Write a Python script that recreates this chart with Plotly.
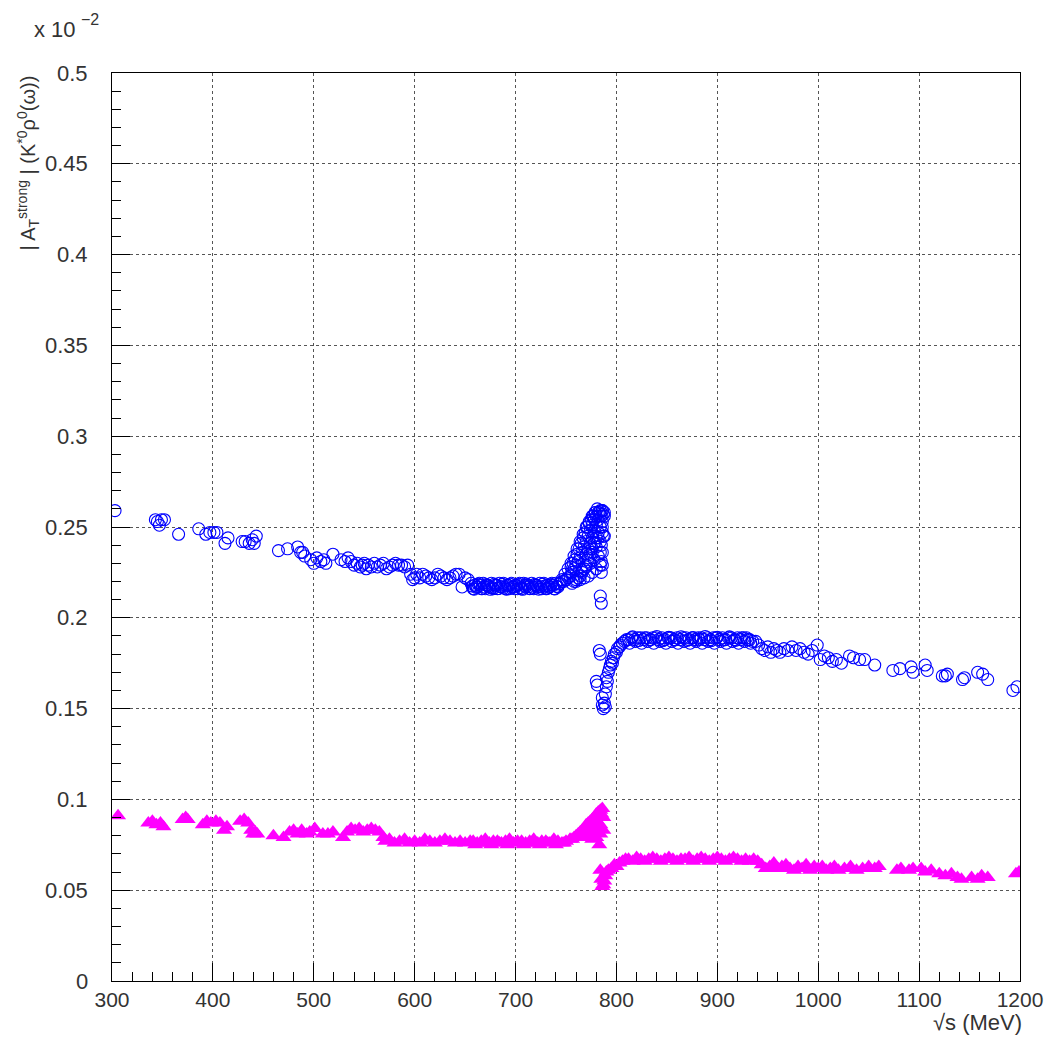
import plotly.graph_objects as go

# ---------------- blue (open circles) ----------------
blue_x_low = [303,343,345,347,349,352,366,386,393,397,401,404,412,415,429,432,436,439,441,443,465,474,484,487,489,491,497,500,503,507,510,512,519,527,531,534,537,540,543,546,548,550,552,554,557,560,563,566,569,572,575,578,581,584,587,590,593,596,598,600,602,605,608,611,614,617,620,623,626,629,632,635,638,641,644,647,650,653]
blue_y_low = [0.259,0.254,0.253,0.251,0.254,0.254,
              0.246,0.249,0.246,0.247,0.247,0.247,
              0.241,0.244,0.242,0.242,0.241,0.243,
              0.241,0.245,0.237,0.238,0.239,0.236,
              0.236,0.234,0.232,0.230,0.233,0.231,
              0.232,0.230,0.235,0.232,0.231,0.233,
              0.231,0.229,0.230,0.228,0.229,0.230,
              0.227,0.229,0.228,0.230,0.228,0.229,
              0.230,0.227,0.228,0.229,0.230,0.229,
              0.229,0.228,0.229,0.224,0.221,0.222,
              0.224,0.222,0.224,0.223,0.222,0.221,
              0.222,0.224,0.223,0.222,0.221,0.222,
              0.223,0.224,0.224,0.217,0.222,0.221]

blue_x_flat1 = [656,660,664,668,672,676,680,684,688,692,696,700,704,708,712,716,720,724,728,732,736,740]
blue_y_flat1 = [0.219,0.218,0.219,0.219,0.218,0.219,0.218,0.219,0.219,0.218,0.219,0.218,0.219,0.219,0.218,0.219,0.218,0.219,0.219,0.218,0.219,0.219]
blue_x_flat2 = [658,662,666,670,674,678,682,686,690,694,698,702,706,710,714,718,722,726,730,734,738,742]
blue_y_flat2 = [0.216,0.217,0.216,0.216,0.217,0.216,0.216,0.217,0.216,0.216,0.217,0.216,0.216,0.217,0.216,0.216,0.217,0.216,0.216,0.217,0.216,0.217]
blue_x_flat5 = [657,661,665,669,673,677,681,685,689,693,697,701,705,709,713,717,721,725,729,733,737,741]
blue_y_flat5 = [0.2175,0.2168,0.2178,0.2170,0.2176,0.2166,0.2178,0.2172,0.2168,0.2177,0.2170,0.2176,0.2167,0.2178,0.2172,0.2169,0.2177,0.2171,0.2175,0.2167,0.2178,0.2173]
blue_x_flat6 = [659,663,667,671,675,679,683,687,691,695,699,703,707,711,715,719,723,727,731,735,739,743]
blue_y_flat6 = [0.2158,0.2185,0.2160,0.2183,0.2157,0.2186,0.2161,0.2184,0.2158,0.2185,0.2160,0.2183,0.2157,0.2186,0.2161,0.2184,0.2158,0.2185,0.2160,0.2183,0.2159,0.2186]

blue_x_rise = [744,746,748,750,752,754,756,758,760,762,764,766,768,770,772,774,776,778,780,782,784,786,
               755,757,759,761,763,765,767,769,771,773,775,777,779,781,783,785,787,786,787,785,
               784,785,785,786,784,785]
blue_y_rise = [0.219,0.220,0.220,0.221,0.222,0.223,0.225,0.227,0.229,0.231,0.233,0.236,0.239,0.242,0.245,0.248,0.251,0.254,0.256,0.258,0.259,0.259,
               0.228,0.230,0.232,0.235,0.238,0.241,0.244,0.247,0.250,0.252,0.254,0.256,0.258,0.260,0.258,0.256,0.257,0.250,0.245,0.240,
               0.236,0.231,0.225,0.229,0.212,0.208]
blue_x_rise2 = [756,758,760,762,764,766,768,770,772,774,776,778,780,782,784,786,788,
                770,772,774,776,778,780,782,784,786,788]
blue_y_rise2 = [0.219,0.220,0.221,0.222,0.223,0.225,0.227,0.229,0.232,0.235,0.238,0.241,0.244,0.247,0.250,0.253,0.256,
                0.235,0.238,0.241,0.244,0.248,0.251,0.254,0.257,0.259,0.258]
blue_x_rise3 = [746,749,752,755,758,761,764,767,770,773,776,779,
                760,764,768,772,776,780,784,766,770,774,778,782,786,772,776,780,784,788,778,782,786]
blue_y_rise3 = [0.221,0.224,0.227,0.230,0.234,0.238,0.242,0.246,0.250,0.253,0.256,0.258,
                0.220,0.221,0.222,0.223,0.225,0.227,0.229,0.226,0.228,0.230,0.232,0.234,0.236,0.233,0.236,0.239,0.242,0.245,0.241,0.244,0.247]

blue_x_dip = [780,781,783,784,786,786,787,788,789,789,790,790,791,792,793,794,795,796,797,798,800,801,803,804,806,808,810]
blue_y_dip = [0.165,0.163,0.182,0.180,0.156,0.152,0.150,0.153,0.151,0.158,0.162,0.167,0.165,0.170,0.172,0.174,0.176,0.175,0.178,0.180,0.181,0.183,0.184,0.185,0.186,0.187,0.188]

blue_x_flat3 = [812,815,818,821,824,827,830,833,836,839,842,845,848,851,854,857,860,863,866,869,872,875,878,881,884,887,890,893,896,899,902,905,908,911,914,917,920,923,926,929,932,935]
blue_y_flat3 = [0.188,0.189,0.188,0.189,0.189,0.188,0.189,0.188,0.189,0.189,
                0.188,0.189,0.188,0.189,0.189,0.188,0.189,0.188,0.189,0.189,
                0.188,0.189,0.188,0.189,0.189,0.188,0.189,0.188,0.189,0.189,
                0.188,0.189,0.188,0.189,0.189,0.188,0.189,0.188,0.189,0.189,
                0.188,0.187]
blue_x_flat4 = [813,819,825,831,837,843,849,855,861,867,873,879,885,891,897,903,909,915,921,927,933]
blue_y_flat4 = [0.186,0.187,0.186,0.187,0.186,0.187,0.186,0.187,0.186,0.187,0.186,0.187,0.186,0.187,0.186,0.187,0.186,0.187,0.186,0.187,0.186]
blue_x_flat7 = [816,822,828,834,840,846,852,858,864,870,876,882,888,894,900,906,912,918,924,930]
blue_y_flat7 = [0.1895,0.1875,0.1890,0.1880,0.1897,0.1874,0.1892,0.1879,0.1896,0.1876,0.1891,0.1881,0.1897,0.1874,0.1893,0.1878,0.1895,0.1876,0.1890,0.1880]

blue_x_high = [938,941,944,947,950,953,956,959,962,966,970,974,978,982,986,990,994,999,1002,1006,1010,1014,1018,1023,1031,1035,1041,1046,1056,1074,1081,1092,1094,1106,1108,1123,1126,1128,1143,1145,1158,1163,1168,1193,1197]
blue_y_high = [0.187,0.185,0.183,0.182,0.184,0.181,0.183,0.182,0.181,0.183,
               0.182,0.184,0.182,0.183,0.181,0.180,0.182,0.185,0.177,0.179,
               0.178,0.176,0.177,0.175,0.179,0.178,0.177,0.177,0.174,0.171,
               0.172,0.173,0.170,0.174,0.171,0.168,0.168,0.169,0.166,0.167,
               0.170,0.169,0.166,0.160,0.162]

# ---------------- magenta (filled triangles) ----------------
pink_x_low = [306,336,340,344,348,351,370,373,375,390,394,398,403,407,411,414,427,431,435,438,440,442,444,460,470,476,480,484,488,493,496,501,509,514,519,529,533,537,541,545,549,553,557,561,565,569,571,575,580,585,590,595,600,605,610,615,620,625,630,635,640,645,650,655]
pink_y_low = [0.091,0.087,0.088,0.086,0.087,0.085,0.089,0.090,0.089,0.086,
              0.088,0.087,0.088,0.087,0.083,0.085,0.088,0.089,0.087,0.083,
              0.081,0.082,0.081,0.080,0.079,0.082,0.083,0.081,0.083,0.081,
              0.082,0.084,0.081,0.081,0.082,0.079,0.082,0.084,0.083,0.084,
              0.082,0.083,0.084,0.083,0.082,0.079,0.077,0.078,0.076,0.077,
              0.078,0.076,0.077,0.076,0.078,0.077,0.076,0.077,0.078,0.077,
              0.076,0.077,0.076,0.077]

pink_x_flat1 = [658,662,666,670,674,678,682,686,690,694,698,702,706,710,714,718,722,726,730,734,738,742,746,750,754]
pink_y_flat1 = [0.077,0.076,0.077,0.078,0.076,0.077,0.077,0.076,0.077,0.078,0.076,0.077,0.077,0.076,0.077,0.078,0.076,0.077,0.077,0.076,0.078,0.077,0.076,0.077,0.078]
pink_x_flat2 = [660,668,676,684,692,700,708,716,724,732,740,748]
pink_y_flat2 = [0.075,0.076,0.075,0.076,0.075,0.076,0.075,0.076,0.075,0.076,0.075,0.076]

pink_x_rise = [756,758,760,762,764,766,768,770,772,774,776,778,780,782,784,786,
               765,769,773,777,781,783,785,787,
               768,772,776,780,784,776,780,784,787]
pink_y_rise = [0.078,0.079,0.080,0.081,0.082,0.083,0.084,0.086,0.087,0.088,0.089,0.090,0.092,0.093,0.094,0.095,
               0.080,0.082,0.084,0.086,0.088,0.090,0.092,0.090,
               0.079,0.080,0.082,0.084,0.086,0.078,0.079,0.081,0.083]

pink_x_dip = [783,784,785,786,787,788,789,790,792,795,798,800,803,806,809]
pink_y_dip = [0.075,0.061,0.056,0.052,0.053,0.055,0.058,0.060,0.061,0.062,0.064,0.063,0.065,0.066,0.067]

pink_x_flat3 = [812,816,820,824,828,832,836,840,844,848,852,856,860,864,868,872,876,880,884,888,892,896,900,904,908,912,916,920,924,928,932,936,940]
pink_y_flat3 = [0.067,0.066,0.068,0.067,0.066,0.067,0.068,0.067,0.066,0.067,0.068,0.067,0.066,0.067,0.067,0.068,0.066,0.067,0.068,0.067,0.066,0.067,0.068,0.067,0.066,0.067,0.068,0.067,0.066,0.067,0.066,0.067,0.066]

pink_x_high = [944,948,952,956,960,964,968,972,976,980,984,988,992,996,1000,1004,1008,1012,1016,1020,1026,1032,1038,1044,1050,1056,1060,1078,1082,1090,1094,1102,1106,1112,1120,1126,1132,1138,1142,1152,1158,1162,1168,1196,1199]
pink_y_high = [0.064,0.062,0.063,0.065,0.062,0.063,0.064,0.062,0.061,0.063,
               0.062,0.064,0.061,0.063,0.062,0.063,0.061,0.062,0.063,0.061,
               0.062,0.063,0.061,0.062,0.063,0.062,0.063,0.061,0.062,0.061,
               0.062,0.062,0.060,0.061,0.059,0.058,0.059,0.057,0.056,0.057,
               0.056,0.058,0.057,0.059,0.060]

# ---------------- y tick labels ----------------
y_tick_vals = [0, 0.05, 0.1, 0.15, 0.2, 0.25, 0.3, 0.35, 0.4, 0.45, 0.5]
y_tick_text = ["0", "0.05", "0.1", "0.15", "0.2", "0.25", "0.3", "0.35", "0.4", "0.45", "0.5"]

blue_x = (blue_x_low + blue_x_flat1 + blue_x_flat2 + blue_x_flat5 + blue_x_flat6 + blue_x_rise + blue_x_rise2
          + blue_x_rise3 + blue_x_dip + blue_x_flat3 + blue_x_flat4 + blue_x_flat7 + blue_x_high)
blue_y = (blue_y_low + blue_y_flat1 + blue_y_flat2 + blue_y_flat5 + blue_y_flat6 + blue_y_rise + blue_y_rise2
          + blue_y_rise3 + blue_y_dip + blue_y_flat3 + blue_y_flat4 + blue_y_flat7 + blue_y_high)
pink_x = pink_x_low + pink_x_flat1 + pink_x_flat2 + pink_x_rise + pink_x_dip + pink_x_flat3 + pink_x_high
pink_y = pink_y_low + pink_y_flat1 + pink_y_flat2 + pink_y_rise + pink_y_dip + pink_y_flat3 + pink_y_high
assert len(blue_x) == len(blue_y), (len(blue_x), len(blue_y))
assert len(pink_x) == len(pink_y), (len(pink_x), len(pink_y))

FONT = "Liberation Sans"
TXT = "#333333"
OFF = 8                      # default page (body) margin of the html page
W, H = 1055 - OFF, 1053 - OFF
L, R, T, B = 112 - OFF, 35, 73 - OFF, 72
PW, PH = W - L - R, H - T - B


def px(xp):   # page x pixel -> paper x
    return (xp - OFF - L) / PW


def py(yp):   # page y pixel -> paper y
    return (H - B - (yp - OFF)) / PH


fig = go.Figure()
fig.add_trace(go.Scatter(x=blue_x, y=blue_y, mode="markers",
                         marker=dict(symbol="circle-open", size=12, color="#0000ff",
                                     line=dict(width=1.1, color="#0000ff")),
                         showlegend=False))
fig.add_trace(go.Scatter(x=pink_x, y=pink_y, mode="markers",
                         marker=dict(symbol="triangle-up", size=14, color="#ff00ff",
                                     line=dict(width=0)),
                         showlegend=False))

axis_common = dict(
    showline=True, linecolor="black", linewidth=1, mirror=True,
    ticks="inside", ticklen=18, tickcolor="black", tickwidth=1,
    showgrid=True, gridcolor="#555555", gridwidth=1, griddash="dot",
    zeroline=False,
    tickfont=dict(family=FONT, size=21, color=TXT),
)
fig.update_xaxes(range=[300, 1200], tick0=300, dtick=100,
                 minor=dict(dtick=20, ticks="inside", ticklen=9, tickcolor="black", showgrid=False),
                 ticklabelstandoff=0, **axis_common)
fig.update_yaxes(range=[0, 0.5], tickvals=y_tick_vals, showticklabels=False,
                 minor=dict(dtick=0.01, ticks="inside", ticklen=9, tickcolor="black", showgrid=False),
                 **axis_common)

annotations = [
    dict(text=t, xref="paper", yref="y", x=px(89), y=v, xanchor="right", yanchor="middle",
         showarrow=False, borderpad=0, font=dict(family=FONT, size=22, color=TXT))
    for v, t in zip(y_tick_vals, y_tick_text)
]
annotations += [
    dict(text="x 10", xref="paper", yref="paper",
         x=px(32), y=py(29), xanchor="left", yanchor="middle",
         showarrow=False, font=dict(family=FONT, size=22, color=TXT)),
    dict(text="−2", xref="paper", yref="paper",
         x=px(80), y=py(19), xanchor="left", yanchor="middle", borderpad=0,
         showarrow=False, font=dict(family=FONT, size=16, color=TXT)),
    dict(text="| A<sub>T</sub><sup>strong</sup> | (K<sup>*0</sup>ρ<sup>0</sup>(ω))",
         xref="paper", yref="paper", textangle=-90,
         x=px(28), y=py(74), xanchor="center", yanchor="top",
         showarrow=False, font=dict(family=FONT, size=20, color=TXT)),
    dict(text="√s (MeV)", xref="paper", yref="paper",
         x=px(1024), y=py(1022), xanchor="right", yanchor="middle",
         showarrow=False, font=dict(family=FONT, size=22, color=TXT)),
]

fig.update_layout(
    width=W, height=H,
    margin=dict(l=L, r=R, t=T, b=B, autoexpand=False),
    plot_bgcolor="white", paper_bgcolor="white",
    font=dict(family=FONT, size=20, color=TXT),
    annotations=annotations,
)

fig.write_html("out.html")
